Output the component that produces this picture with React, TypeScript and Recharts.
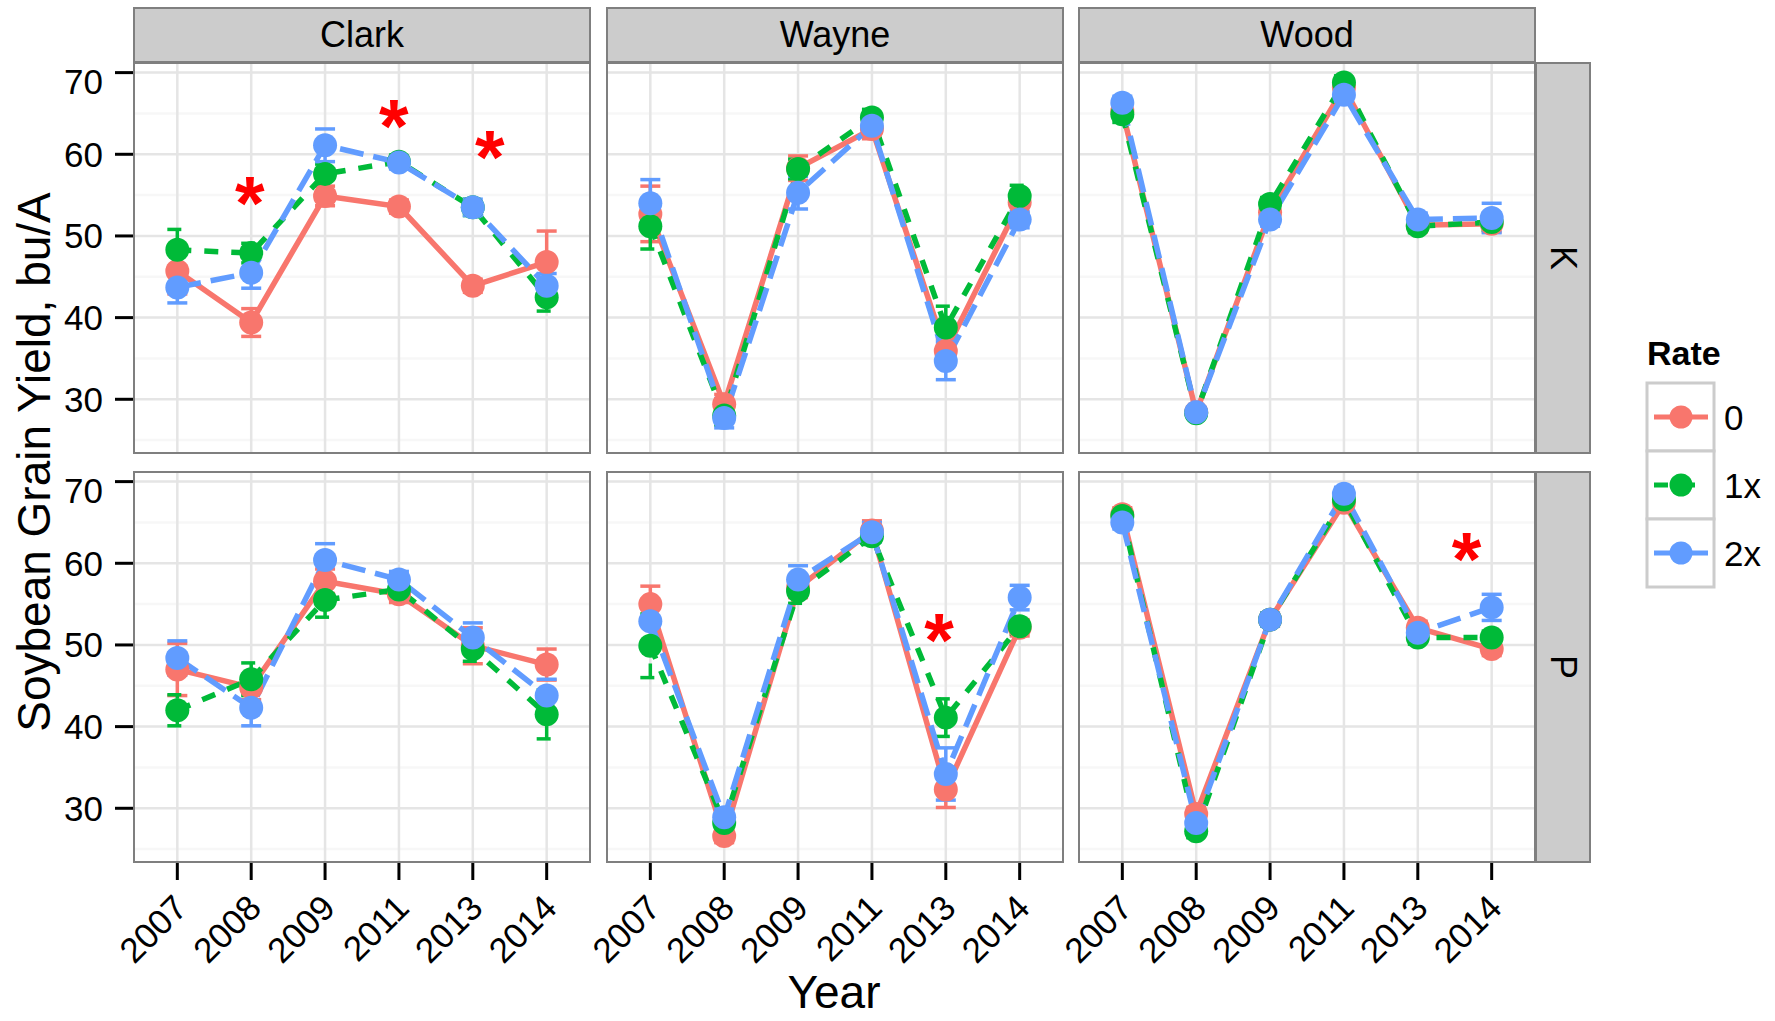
import React from "react";
import {
  ComposedChart,
  Line,
  Scatter,
  XAxis,
  YAxis,
  CartesianGrid,
  ErrorBar,
} from "recharts";

const years = ["2007", "2008", "2009", "2011", "2013", "2014"];
const rateLabels = ["0", "1x", "2x"];
const rateColors = ["#F8766D", "#00BA38", "#619CFF"];
const rateDash = [undefined, "14 13", "24 10"];
const yTicks = [30, 40, 50, 60, 70];
const yMinor = [25, 35, 45, 55, 65];
const xIdx = [0, 1, 2, 3, 4, 5];

// means by rate (0, 1x, 2x) and standard errors
const clarkK0 = [45.7, 39.4, 54.9, 53.6, 43.9, 46.8];
const clarkK1 = [48.3, 47.9, 57.6, 59.1, 53.5, 42.5];
const clarkK2 = [43.7, 45.5, 61.1, 59.0, 53.5, 43.9];
const clarkKse0 = [2.8, 1.7, 1.2, 0.8, 0.8, 3.8];
const clarkKse1 = [2.5, 1.2, 1.2, 0.8, 1.0, 1.7];
const clarkKse2 = [1.9, 1.9, 2.0, 0.8, 1.0, 1.5];

const wayneK0 = [52.7, 29.4, 58.3, 63.1, 35.9, 54.1];
const wayneK1 = [51.2, 28.0, 58.2, 64.5, 38.8, 54.9];
const wayneK2 = [54.0, 27.7, 55.3, 63.5, 34.7, 52.0];
const wayneKse0 = [3.4, 1.2, 1.5, 1.2, 1.5, 1.3];
const wayneKse1 = [2.8, 1.2, 1.2, 1.0, 2.6, 1.3];
const wayneKse2 = [2.9, 1.2, 2.0, 1.0, 2.3, 1.0];

const woodK0 = [65.3, 28.4, 52.9, 68.2, 51.3, 51.5];
const woodK1 = [64.9, 28.3, 53.9, 68.8, 51.2, 51.7];
const woodK2 = [66.3, 28.4, 52.0, 67.3, 52.0, 52.2];
const woodKse0 = [1.0, 0.6, 0.8, 0.8, 0.8, 1.0];
const woodKse1 = [1.0, 0.6, 0.8, 0.8, 0.8, 1.0];
const woodKse2 = [0.8, 0.6, 0.8, 0.8, 0.8, 1.8];

const clarkP0 = [47.0, 44.8, 57.8, 56.2, 49.9, 47.6];
const clarkP1 = [42.0, 45.8, 55.5, 56.8, 49.5, 41.5];
const clarkP2 = [48.4, 42.3, 60.4, 58.0, 50.9, 43.8];
const clarkPse0 = [3.2, 1.5, 1.5, 1.0, 2.2, 1.9];
const clarkPse1 = [1.9, 2.0, 2.1, 1.0, 1.5, 3.0];
const clarkPse2 = [2.1, 2.2, 2.0, 1.0, 1.8, 2.0];

const wayneP0 = [55.0, 26.6, 57.0, 64.0, 32.3, 52.1];
const wayneP1 = [49.9, 28.2, 56.6, 63.3, 41.1, 52.3];
const wayneP2 = [52.9, 28.9, 58.0, 63.8, 34.2, 55.8];
const waynePse0 = [2.2, 0.8, 1.2, 1.2, 2.2, 1.0];
const waynePse1 = [3.9, 0.8, 1.5, 1.0, 2.3, 1.0];
const waynePse2 = [2.5, 1.0, 1.7, 1.2, 3.2, 1.5];

const woodP0 = [66.0, 29.3, 53.1, 67.4, 52.1, 49.5];
const woodP1 = [65.8, 27.2, 53.1, 67.8, 50.9, 50.9];
const woodP2 = [65.0, 28.2, 53.1, 68.5, 51.5, 54.6];
const woodPse0 = [0.8, 0.8, 0.8, 0.8, 0.8, 0.8];
const woodPse1 = [0.8, 0.8, 0.8, 0.8, 0.8, 0.8];
const woodPse2 = [0.8, 0.8, 0.8, 0.8, 0.8, 1.6];

// significance asterisks: position on year index scale, yield
const clarkKStars = [
  { i: 0.98, v: 56.2 },
  { i: 2.93, v: 65.6 },
  { i: 4.23, v: 61.75 },
];
const waynePStars = [{ i: 3.91, v: 52.7 }];
const woodPStars = [{ i: 4.66, v: 62.7 }];

const sites = ["Clark", "Wayne", "Wood"];
const nutrients = ["K", "P"];

const FONT = "'Liberation Sans', Arial, sans-serif";
const PW = 458;
const PH = 392;
const YAXIS_W = 133;
const XAXIS_H = 150;
const colLeft = [133, 606, 1078];
const rowTop = [62, 471];

function buildRows(m: number[][], e: number[][]) {
  return years.map((y, i) => ({
    i,
    year: y,
    r0: m[0][i],
    r1: m[1][i],
    r2: m[2][i],
    e0: e[0][i],
    e1: e[1][i],
    e2: e[2][i],
  }));
}

const panels = [
  { row: 0, col: 0, rows: buildRows([clarkK0, clarkK1, clarkK2], [clarkKse0, clarkKse1, clarkKse2]), stars: clarkKStars },
  { row: 0, col: 1, rows: buildRows([wayneK0, wayneK1, wayneK2], [wayneKse0, wayneKse1, wayneKse2]), stars: [] },
  { row: 0, col: 2, rows: buildRows([woodK0, woodK1, woodK2], [woodKse0, woodKse1, woodKse2]), stars: [] },
  { row: 1, col: 0, rows: buildRows([clarkP0, clarkP1, clarkP2], [clarkPse0, clarkPse1, clarkPse2]), stars: [] },
  { row: 1, col: 1, rows: buildRows([wayneP0, wayneP1, wayneP2], [waynePse0, waynePse1, waynePse2]), stars: waynePStars },
  { row: 1, col: 2, rows: buildRows([woodP0, woodP1, woodP2], [woodPse0, woodPse1, woodPse2]), stars: woodPStars },
];

function YearTick(props: any) {
  const { x, y, payload } = props;
  const ax = x + 12;
  const ay = y + 28;
  return (
    <text
      x={ax}
      y={ay}
      transform={`rotate(-45, ${ax}, ${ay})`}
      textAnchor="end"
      fontSize={35}
      fontFamily={FONT}
      fill="#000"
    >
      {years[payload.value]}
    </text>
  );
}

function StarShape(props: any) {
  const { cx, cy } = props;
  const fs = 76;
  return (
    <text
      x={cx}
      y={cy + fs * 0.57}
      textAnchor="middle"
      fontSize={fs}
      fontWeight="bold"
      fontFamily={FONT}
      fill="#FF0000"
    >
      *
    </text>
  );
}

function makeDot(color: string) {
  return (p: any) => (
    <circle key={`d-${p.index}`} cx={p.cx} cy={p.cy} r={12} fill={color} stroke="none" />
  );
}

function Panel({ rows, stars, showY, showX }: any) {
  // every chart reserves the left strip so rotated tick labels are not clipped
  const W = PW + YAXIS_W;
  const H = PH + (showX ? XAXIS_H : 0);
  return (
    <ComposedChart
      width={W}
      height={H}
      data={rows}
      margin={{ top: 0, right: 0, bottom: 0, left: showY ? 0 : YAXIS_W }}
    >
      <CartesianGrid horizontalValues={yMinor} vertical={false} stroke="#F7F7F7" strokeWidth={2.5} />
      <CartesianGrid horizontalValues={yTicks} verticalValues={xIdx} stroke="#E5E5E5" strokeWidth={2.5} />
      <XAxis
        type="number"
        dataKey="i"
        domain={[-0.6, 5.6]}
        ticks={xIdx}
        interval={0}
        allowDataOverflow
        hide={!showX}
        height={XAXIS_H}
        axisLine={false}
        tickSize={17}
        tickLine={{ stroke: "#000", strokeWidth: 3 }}
        tick={<YearTick />}
      />
      <YAxis
        type="number"
        domain={[23.3, 71.3]}
        ticks={yTicks}
        allowDataOverflow
        hide={!showY}
        width={YAXIS_W}
        axisLine={false}
        tickSize={18}
        tickMargin={12}
        tickLine={{ stroke: "#000", strokeWidth: 3 }}
        tick={{ fill: "#000", fontSize: 35, fontFamily: FONT }}
      />
      {rateLabels.map((r, idx) => (
        <Line
          key={r}
          dataKey={`r${idx}`}
          stroke={rateColors[idx]}
          strokeWidth={5.5}
          strokeDasharray={rateDash[idx]}
          dot={makeDot(rateColors[idx])}
          activeDot={false}
          isAnimationActive={false}
        >
          <ErrorBar
            dataKey={`e${idx}`}
            direction="y"
            width={10}
            strokeWidth={3.5}
            stroke={rateColors[idx]}
            strokeDasharray={rateDash[idx]}
          />
        </Line>
      ))}
      {stars.length > 0 && (
        <Scatter data={stars} dataKey="v" shape={<StarShape />} isAnimationActive={false} />
      )}
    </ComposedChart>
  );
}

export default function App() {
  return (
    <div
      style={{
        position: "absolute",
        left: 0,
        top: 0,
        width: 1775,
        height: 1021,
        background: "#fff",
        overflow: "hidden",
        fontFamily: FONT,
      }}
    >
      {panels.map((p) => {
        const showY = p.col === 0;
        const showX = p.row === 1;
        return (
          <div
            key={`${p.row}-${p.col}`}
            style={{
              position: "absolute",
              left: colLeft[p.col] - YAXIS_W,
              top: rowTop[p.row],
            }}
          >
            <Panel rows={p.rows} stars={p.stars} showY={showY} showX={showX} />
          </div>
        );
      })}
      {panels.map((p) => (
        <div
          key={`b-${p.row}-${p.col}`}
          style={{
            position: "absolute",
            left: colLeft[p.col],
            top: rowTop[p.row],
            width: PW,
            height: PH,
            border: "2px solid #7F7F7F",
            boxSizing: "border-box",
            pointerEvents: "none",
          }}
        />
      ))}
      {sites.map((s, c) => (
        <div
          key={s}
          style={{
            position: "absolute",
            left: colLeft[c],
            top: 7,
            width: PW,
            height: 56,
            background: "#CCCCCC",
            border: "2px solid #7F7F7F",
            boxSizing: "border-box",
            display: "flex",
            alignItems: "center",
            justifyContent: "center",
            fontSize: 36,
            color: "#000",
          }}
        >
          {s}
        </div>
      ))}
      {nutrients.map((n, r) => (
        <div
          key={n}
          style={{
            position: "absolute",
            left: 1535,
            top: rowTop[r],
            width: 56,
            height: PH,
            background: "#CCCCCC",
            border: "2px solid #7F7F7F",
            boxSizing: "border-box",
            display: "flex",
            alignItems: "center",
            justifyContent: "center",
            fontSize: 36,
            color: "#000",
          }}
        >
          <span style={{ display: "inline-block", transform: "rotate(90deg)" }}>{n}</span>
        </div>
      ))}
      <svg
        width={1775}
        height={1021}
        style={{ position: "absolute", left: 0, top: 0, pointerEvents: "none" }}
      >
        <text
          transform="translate(50, 462) rotate(-90)"
          textAnchor="middle"
          fontSize={46}
          fontFamily={FONT}
          fill="#000"
        >
          Soybean Grain Yield, bu/A
        </text>
        <text x={834} y={1008} textAnchor="middle" fontSize={46} fontFamily={FONT} fill="#000">
          Year
        </text>
        <text x={1647} y={365} fontSize={34} fontWeight="bold" fontFamily={FONT} fill="#000">
          Rate
        </text>
        {rateLabels.map((r, k) => {
          const cy = 417 + k * 68;
          return (
            <g key={r}>
              <rect x={1647} y={cy - 34} width={67} height={68} fill="#fff" stroke="#CCCCCC" strokeWidth={3} />
              <line
                x1={1654}
                x2={1708}
                y1={cy}
                y2={cy}
                stroke={rateColors[k]}
                strokeWidth={5}
                strokeDasharray={rateDash[k]}
              />
              <circle cx={1681} cy={cy} r={11.5} fill={rateColors[k]} />
              <text x={1724} y={cy + 13} fontSize={35} fontFamily={FONT} fill="#000">
                {r}
              </text>
            </g>
          );
        })}
      </svg>
    </div>
  );
}
